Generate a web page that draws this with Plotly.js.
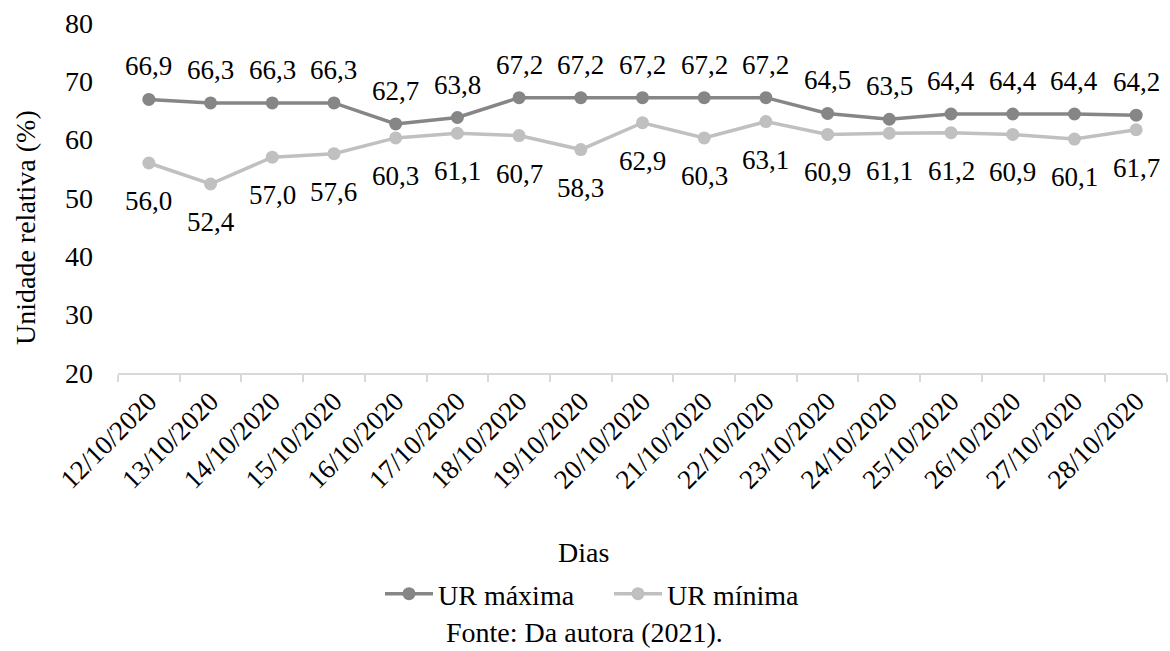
<!DOCTYPE html>
<html>
<head>
<meta charset="utf-8">
<script src="https://cdn.plot.ly/plotly-3.0.1.min.js"></script>
<style>
  html, body { margin: 0; padding: 0; background: #fff; }
  #chart { width: 1170px; height: 651px; }
</style>
</head>
<body>
<div id="chart"></div>
<script>
// Daily relative humidity (max / min), October 2020
const dias = [
  "12/10/2020", "13/10/2020", "14/10/2020", "15/10/2020", "16/10/2020",
  "17/10/2020", "18/10/2020", "19/10/2020", "20/10/2020", "21/10/2020",
  "22/10/2020", "23/10/2020", "24/10/2020", "25/10/2020", "26/10/2020",
  "27/10/2020", "28/10/2020"
];
const urMaxima = [66.9, 66.3, 66.3, 66.3, 62.7, 63.8, 67.2, 67.2, 67.2, 67.2, 67.2, 64.5, 63.5, 64.4, 64.4, 64.4, 64.2];
const urMinima = [56.0, 52.4, 57.0, 57.6, 60.3, 61.1, 60.7, 58.3, 62.9, 60.3, 63.1, 60.9, 61.1, 61.2, 60.9, 60.1, 61.7];
const yTicks = [20, 30, 40, 50, 60, 70, 80];

const SERIF = "Liberation Serif";
const COR_MAX = "#868686";
const COR_MIN = "#c0c0c0";

const fmt = v => v.toFixed(1).replace(".", ",");

const traces = [
  {
    x: dias, y: urMaxima, name: "UR máxima", type: "scatter", mode: "lines+markers",
    line: { color: COR_MAX, width: 3.5 },
    marker: { color: COR_MAX, size: 13 }
  },
  {
    x: dias, y: urMinima, name: "UR mínima", type: "scatter", mode: "lines+markers",
    line: { color: COR_MIN, width: 3.5 },
    marker: { color: COR_MIN, size: 13 }
  }
];

// value labels: maxima above the points, minima below
const annotations = [];
dias.forEach((d, i) => {
  annotations.push({
    x: d, y: urMaxima[i], xref: "x", yref: "y", text: fmt(urMaxima[i]),
    showarrow: false, yshift: 33, font: { family: SERIF, size: 27, color: "#000" }
  });
  annotations.push({
    x: d, y: urMinima[i], xref: "x", yref: "y", text: fmt(urMinima[i]),
    showarrow: false, yshift: -38, font: { family: SERIF, size: 27, color: "#000" }
  });
});

// axis titles and source note
annotations.push({
  text: "Unidade relativa (%)", xref: "paper", yref: "paper",
  x: (25 - 118) / 1049, y: 1 - (228 - 23) / 350, textangle: -90,
  showarrow: false, xanchor: "center", yanchor: "middle",
  font: { family: SERIF, size: 28, color: "#000" }
});
annotations.push({
  text: "Dias", xref: "paper", yref: "paper",
  x: (583 - 118) / 1049, y: -(552 - 373) / 350,
  showarrow: false, xanchor: "center", yanchor: "middle",
  font: { family: SERIF, size: 28, color: "#000" }
});
annotations.push({
  text: "Fonte: Da autora (2021).", xref: "paper", yref: "paper",
  x: (584 - 118) / 1049, y: -(632 - 373) / 350,
  showarrow: false, xanchor: "center", yanchor: "middle",
  font: { family: SERIF, size: 28, color: "#000" }
});

const layout = {
  width: 1170, height: 651,
  margin: { l: 118, r: 3, t: 23, b: 278 },
  paper_bgcolor: "#fff", plot_bgcolor: "#fff",
  font: { family: SERIF, size: 28, color: "#000" },
  showlegend: true,
  legend: {
    orientation: "h", xref: "container", yref: "container",
    x: 380 / 1170, xanchor: "left", y: 1 - 594 / 651, yanchor: "middle",
    entrywidth: 166, entrywidthmode: "pixels", itemwidth: 48,
    font: { family: SERIF, size: 28, color: "#000" },
    bgcolor: "rgba(0,0,0,0)"
  },
  xaxis: {
    type: "category",
    range: [-0.5, dias.length - 0.5],
    showgrid: false, zeroline: false,
    showline: true, linecolor: "#d9d9d9", linewidth: 1.5,
    ticks: "outside", tickson: "boundaries", ticklen: 7, tickcolor: "#d9d9d9", tickwidth: 1.5,
    tickangle: -45,
    tickfont: { family: SERIF, size: 27, color: "#000" },
    automargin: false
  },
  yaxis: {
    range: [20, 80], tickvals: yTicks, ticktext: yTicks.map(String),
    showgrid: false, zeroline: false, showline: false, ticks: "",
    ticklabelstandoff: 24,
    tickfont: { family: SERIF, size: 28, color: "#000" },
    automargin: false
  },
  annotations: annotations
};

Plotly.newPlot("chart", traces, layout, { displayModeBar: false });
</script>
</body>
</html>
